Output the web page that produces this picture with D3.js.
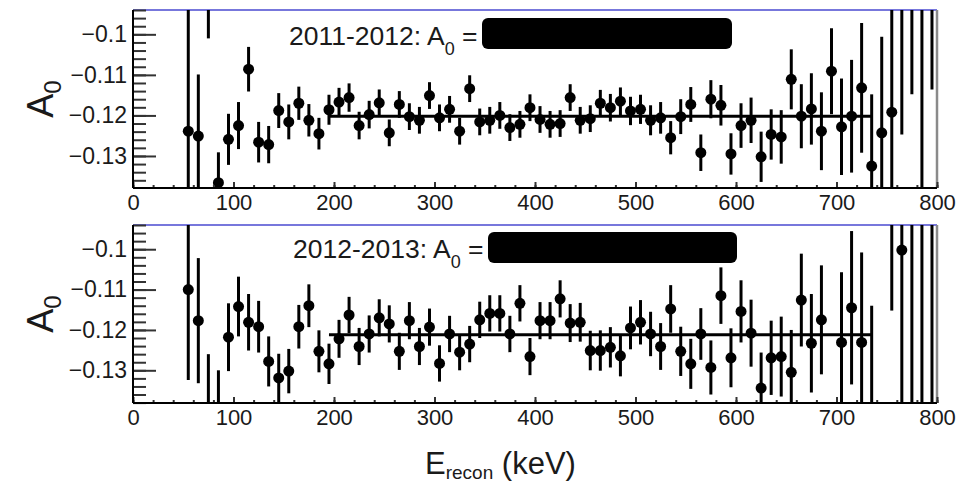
<!DOCTYPE html>
<html>
<head>
<meta charset="utf-8">
<script src="https://cdnjs.cloudflare.com/ajax/libs/d3/7.8.5/d3.min.js"></script>
<style>
body { margin: 0; background: #fff; }
svg text { font-family: "Liberation Sans", Arial, sans-serif; fill: #1a1a1a; }
</style>
</head>
<body>
<div id="chart"></div>
<script>
// bin centres (keV)
var energy = [55, 65, 75, 85, 95, 105, 115, 125, 135, 145, 155, 165, 175, 185, 195,
	205, 215, 225, 235, 245, 255, 265, 275, 285, 295, 305, 315, 325, 335, 345,
	355, 365, 375, 385, 395, 405, 415, 425, 435, 445, 455, 465, 475, 485, 495,
	505, 515, 525, 535, 545, 555, 565, 575, 585, 595, 605, 615, 625, 635, 645,
	655, 665, 675, 685, 695, 705, 715, 725, 735, 745, 755, 765, 775, 785, 795];

// 2011-2012 asymmetry per bin and its error
var a0_2011 = [-0.1239, -0.1251, -0.088, -0.1366, -0.1259, -0.1225, -0.1086, -0.1266, -0.1272, -0.1188, -0.1216, -0.1170, -0.1212, -0.1245, -0.1186,
	-0.1167, -0.1156, -0.1225, -0.1198, -0.1169, -0.1243, -0.1173, -0.1203, -0.1212, -0.1151, -0.1206, -0.1185, -0.1239, -0.1134, -0.1216,
	-0.1212, -0.1200, -0.1230, -0.1222, -0.1181, -0.1210, -0.1222, -0.1220, -0.1156, -0.1212, -0.1208, -0.1170, -0.1181, -0.1165, -0.1189,
	-0.1185, -0.1212, -0.1206, -0.1255, -0.1203, -0.1173, -0.1292, -0.1160, -0.1175, -0.1295, -0.1225, -0.1212, -0.1302, -0.1247, -0.1253,
	-0.1111, -0.1202, -0.1184, -0.1239, -0.1091, -0.1228, -0.1202, -0.1132, -0.1325, -0.1243, -0.1192, -0.085, -0.070, -0.080, -0.070];
var err_2011 = [0.030, 0.0152, 0.013, 0.0075, 0.0063, 0.0058, 0.0055, 0.0050, 0.0046, 0.0043, 0.0043, 0.0041, 0.0040, 0.0039, 0.0037,
	0.0035, 0.0035, 0.0034, 0.0034, 0.0033, 0.0033, 0.0033, 0.0033, 0.0033, 0.0033, 0.0033, 0.0033, 0.0033, 0.0033, 0.0033,
	0.0033, 0.0033, 0.0033, 0.0033, 0.0033, 0.0033, 0.0033, 0.0033, 0.0033, 0.0033, 0.0033, 0.0033, 0.0034, 0.0034, 0.0035,
	0.0036, 0.0037, 0.0039, 0.0041, 0.0043, 0.0043, 0.0045, 0.0047, 0.0050, 0.0051, 0.0055, 0.0056, 0.0062, 0.0062, 0.0066,
	0.0074, 0.0079, 0.0088, 0.0096, 0.0106, 0.0119, 0.0139, 0.0160, 0.0177, 0.0237, 0.030, 0.0397, 0.0448, 0.080, 0.0436];

// 2012-2013 (null = empty bin)
var a0_2012 = [-0.1100, -0.1177, -0.142, -0.142, -0.1218, -0.1142, -0.1181, -0.1192, -0.1278, -0.1319, -0.1302, -0.1192, -0.1140, -0.1253, -0.1284,
	-0.1222, -0.1163, -0.1241, -0.1210, -0.1170, -0.1185, -0.1253, -0.1177, -0.1241, -0.1193, -0.1283, -0.1210, -0.1255, -0.1235, -0.1175,
	-0.1159, -0.1159, -0.1210, -0.1134, -0.1266, -0.1177, -0.1177, -0.1123, -0.1183, -0.1181, -0.1251, -0.1251, -0.1243, -0.1264, -0.1195,
	-0.1181, -0.1210, -0.1241, -0.1148, -0.1253, -0.1284, -0.1210, -0.1293, -0.1115, -0.1269, -0.1154, -0.1208, -0.1344, -0.1269, -0.1266,
	-0.1305, -0.1126, -0.1233, -0.1175, null, -0.1231, -0.1145, -0.1231, -0.140, null, -0.090, -0.1002, -0.080, -0.080, -0.080];
var err_2012 = [0.0224, 0.0155, 0.016, 0.012, 0.0084, 0.0074, 0.0070, 0.0064, 0.0062, 0.0060, 0.0055, 0.0054, 0.0053, 0.0052, 0.0050,
	0.0047, 0.0045, 0.0046, 0.0046, 0.0046, 0.0046, 0.0046, 0.0046, 0.0046, 0.0046, 0.0045, 0.0045, 0.0045, 0.0045, 0.0045,
	0.0045, 0.0045, 0.0045, 0.0045, 0.0046, 0.0046, 0.0046, 0.0046, 0.0047, 0.0048, 0.0049, 0.0050, 0.0050, 0.0051, 0.0053,
	0.0055, 0.0055, 0.0058, 0.0059, 0.0061, 0.0062, 0.0064, 0.0067, 0.0070, 0.0073, 0.0077, 0.0083, 0.0088, 0.0092, 0.0099,
	0.0105, 0.0115, 0.0122, 0.0135, null, 0.0174, 0.0190, 0.0223, 0.026, null, 0.0252, 0.040, 0.080, 0.080, 0.080];

// constant fits
var fitRange = [195, 735];
var fit_2011 = -0.1202;
var fit_2012 = -0.1212;

var xTicks = [0, 100, 200, 300, 400, 500, 600, 700, 800];
var yTicks = [-0.10, -0.11, -0.12, -0.13];
var yTickLabels = ['\u22120.1', '\u22120.11', '\u22120.12', '\u22120.13'];

var width = 971,
	height = 482,
	left = 133,
	right = 937,
	plotH = 178;

var panels = [
	{label: '2011-2012', values: a0_2011, errors: err_2011, fit: fit_2011,
		top: 10, yDomain: [-0.1379, -0.094], textX: 289, textY: 45, box: [482, 18, 250, 31]},
	{label: '2012-2013', values: a0_2012, errors: err_2012, fit: fit_2012,
		top: 225, yDomain: [-0.1381, -0.094], textX: 293, textY: 258, box: [488, 232, 249, 31]}
];

var svg = d3.select('#chart').append('svg')
	.attr('width', width)
	.attr('height', height);

var x = d3.scaleLinear().domain([0, 800]).range([left, right]);

panels.forEach(function(p, i) {
	var bottom = p.top + plotH;
	var y = d3.scaleLinear().domain(p.yDomain).range([bottom, p.top]);
	var g = svg.append('g');

	svg.append('clipPath').attr('id', 'clip' + i)
		.append('rect')
		.attr('x', left).attr('y', p.top)
		.attr('width', right - left).attr('height', plotH);

	// frame: blue top, grey right
	g.append('line')
		.attr('x1', left).attr('x2', right)
		.attr('y1', p.top).attr('y2', p.top)
		.attr('stroke', '#4a4ad0').attr('stroke-width', 1.5);
	g.append('line')
		.attr('x1', right).attr('x2', right)
		.attr('y1', p.top).attr('y2', bottom)
		.attr('stroke', '#8a8a8a').attr('stroke-width', 2.5);

	var pts = energy.map(function(e, j) {
		return {e: e, v: p.values[j], err: p.errors[j]};
	}).filter(function(d) { return d.v !== null; });

	var plot = g.append('g').attr('clip-path', 'url(#clip' + i + ')');

	// fit line
	plot.append('line')
		.attr('x1', x(fitRange[0])).attr('x2', x(fitRange[1]))
		.attr('y1', y(p.fit)).attr('y2', y(p.fit))
		.attr('stroke', '#000').attr('stroke-width', 3);

	plot.selectAll('line.err')
		.data(pts)
		.enter().append('line')
		.attr('class', 'err')
		.attr('x1', function(d) { return x(d.e); })
		.attr('x2', function(d) { return x(d.e); })
		.attr('y1', function(d) { return y(d.v - d.err); })
		.attr('y2', function(d) { return y(d.v + d.err); })
		.attr('stroke', '#000').attr('stroke-width', 3);

	plot.selectAll('circle')
		.data(pts)
		.enter().append('circle')
		.attr('cx', function(d) { return x(d.e); })
		.attr('cy', function(d) { return y(d.v); })
		.attr('r', 5.5)
		.attr('fill', '#000');

	// y axis, ticks drawn inward like ROOT
	var yMajor = g.append('g')
		.attr('transform', 'translate(' + left + ',0)')
		.call(d3.axisLeft(y).tickValues(yTicks)
			.tickFormat(function(d, k) { return yTickLabels[k]; })
			.tickSizeInner(-23).tickSizeOuter(0).tickPadding(6));
	g.append('g')
		.attr('transform', 'translate(' + left + ',0)')
		.call(d3.axisLeft(y).tickValues(d3.ticks(p.yDomain[0], p.yDomain[1], 20))
			.tickFormat('').tickSizeInner(-13).tickSizeOuter(0));

	var xMajor = g.append('g')
		.attr('transform', 'translate(0,' + bottom + ')')
		.call(d3.axisBottom(x).tickValues(xTicks)
			.tickSizeInner(-6).tickSizeOuter(0).tickPadding(6));
	g.append('g')
		.attr('transform', 'translate(0,' + bottom + ')')
		.call(d3.axisBottom(x).tickValues(d3.range(0, 801, 20))
			.tickFormat('').tickSizeInner(-3).tickSizeOuter(0));

	g.selectAll('.domain').remove();
	g.selectAll('.tick line').attr('stroke', '#333').attr('stroke-width', 2);
	yMajor.selectAll('text').attr('font-size', 23).attr('font-family', null);
	xMajor.selectAll('text').attr('font-size', 22).attr('font-family', null);

	// axis lines
	g.append('line')
		.attr('x1', left).attr('x2', left)
		.attr('y1', p.top).attr('y2', bottom)
		.attr('stroke', '#000').attr('stroke-width', 2);
	g.append('line')
		.attr('x1', left).attr('x2', right)
		.attr('y1', bottom).attr('y2', bottom)
		.attr('stroke', '#000').attr('stroke-width', 2);

	// y title A0
	var yt = g.append('text')
		.attr('transform', 'translate(53,' + (p.top + plotH / 2) + ') rotate(-90)')
		.attr('text-anchor', 'middle')
		.attr('font-size', 36);
	yt.append('tspan').text('A');
	yt.append('tspan').attr('font-size', 24).attr('dy', 8).text('0');

	// fit result label with redacted value
	var t = g.append('text')
		.attr('x', p.textX).attr('y', p.textY)
		.attr('font-size', 26.5);
	t.append('tspan').text(p.label + ': A');
	t.append('tspan').attr('font-size', 18).attr('dy', 10).text('0');
	t.append('tspan').attr('dy', -10).text(' =');

	g.append('rect')
		.attr('x', p.box[0]).attr('y', p.box[1])
		.attr('width', p.box[2]).attr('height', p.box[3])
		.attr('rx', 6)
		.attr('fill', '#000');
});

// x title
var xt = svg.append('text')
	.attr('x', 425).attr('y', 474)
	.attr('font-size', 31);
xt.append('tspan').text('E');
xt.append('tspan').attr('font-size', 19).attr('dy', 5).text('recon');
xt.append('tspan').attr('dy', -5).text(' (keV)');
</script>
</body>
</html>
